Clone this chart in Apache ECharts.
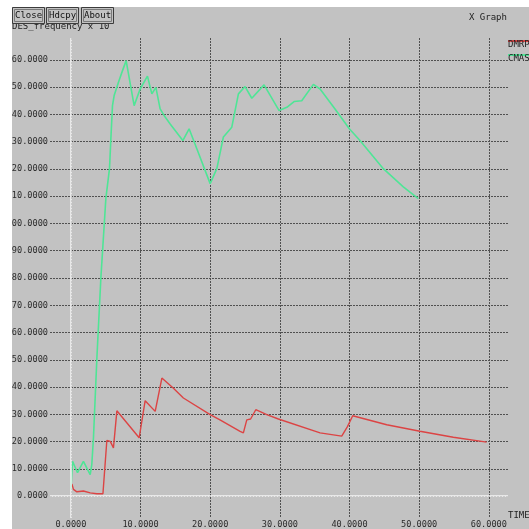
<!DOCTYPE html>
<html>
<head>
<meta charset="utf-8">
<script src="https://cdn.jsdelivr.net/npm/echarts@6/dist/echarts.min.js"></script>
<style>
  html, body { margin: 0; padding: 0; background: #ffffff; }
  #wrap { position: relative; width: 529px; height: 529px; overflow: hidden; }
  #panel { position: absolute; left: 12px; top: 7px; right: 0; bottom: 0; background: #c2c2c2; }
  #chart { position: absolute; left: 0; top: 0; width: 529px; height: 529px; }
</style>
</head>
<body>
<div id="wrap">
  <div id="panel"></div>
  <div id="chart"></div>
</div>
<script>
// Axis ticks
const timeTicks = [0, 10, 20, 30, 40, 50, 60];
const freqTicks = [0, 10, 20, 30, 40, 50, 60, 70, 80, 90, 100, 110, 120, 130, 140, 150, 160];

// DMRP series
const dmrpTime = [0.14, 0.37, 0.86, 1.8, 2.77, 3.73, 4.6, 5.16, 5.65, 6.11, 6.6, 9.8, 10.66, 12.1, 13.06,
  14.72, 16.15, 19.99, 21.4, 24.29, 24.76, 25.25, 25.8, 26.54, 28.12, 29.79, 35.77, 38.88, 39.7, 40.46,
  45.34, 50.11, 54.9, 59.68];
const dmrpFreq = [4.5, 2.5, 1.6, 1.9, 1.2, 0.9, 0.9, 20.4, 20.1, 17.7, 31.3, 21.4, 35.0, 31.1, 43.3,
  39.6, 36.0, 29.9, 28.0, 23.8, 23.2, 28.0, 28.3, 31.7, 29.9, 28.3, 23.2, 22.0, 25.5, 29.5,
  26.2, 23.8, 21.6, 19.8];

// CMAS series
const cmasTime = [0.0, 0.23, 0.95, 1.8, 2.77, 3.0, 3.24, 3.73, 4.3, 5.02, 5.54, 5.74, 5.97, 6.21, 6.83,
  7.32, 7.93, 9.08, 9.94, 10.99, 11.62, 12.2, 12.81, 13.53, 14.25, 16.07, 16.97, 18.08, 19.99, 20.95,
  21.89, 23.1, 24.05, 25.0, 25.97, 27.73, 29.89, 31.0, 32.04, 33.14, 34.81, 35.77, 37.92, 39.97, 41.5,
  44.85, 47.72, 49.87];
const cmasFreq = [2.5, 12.8, 8.6, 12.8, 7.9, 11.6, 21.4, 50.6, 79.9, 109.2, 120.1, 131.1, 143.2, 146.9, 151.8,
  155.4, 159.7, 143.2, 149.3, 154.0, 147.5, 149.9, 142.0, 139.0, 136.5, 130.4, 134.7, 127.4, 114.6, 120.1,
  131.7, 135.3, 147.5, 150.2, 145.9, 150.8, 141.4, 142.6, 144.7, 145.0, 151.0, 149.3, 142.0, 134.7, 130.4,
  120.1, 113.4, 109.1];

const seriesNames = ['DMRP', 'CMAS'];
const seriesColors = ['#dc4444', '#4fe596'];
const buttonLabels = ['Close', 'Hdcpy', 'About'];

const zip = (xs, ys) => xs.map((x, i) => [x, ys[i]]);
const mono = '"DejaVu Sans Mono", "Liberation Mono", monospace';
const fmt = v => Number(v).toFixed(4);

const chart = echarts.init(document.getElementById('chart'), null, { renderer: 'canvas' });

const gridLine = { show: true, lineStyle: { color: '#505050', width: 1, type: [2, 1] } };

// window chrome: buttons, title, legend, axis name
const graphics = [];
const btnX = [12, 46, 81];
const btnW = [32, 32, 32];
buttonLabels.forEach((t, i) => {
  graphics.push({ type: 'rect', z: 120, shape: { x: btnX[i] + 0.5, y: 7.5, width: btnW[i], height: 16 },
    style: { fill: '#c2c2c2', stroke: '#3c3c3c', lineWidth: 1 } });
  graphics.push({ type: 'rect', z: 121, shape: { x: btnX[i] + 2.5, y: 9.5, width: btnW[i] - 4, height: 12 },
    style: { fill: 'none', stroke: '#7a7a7a', lineWidth: 1 } });
  graphics.push({ type: 'text', z: 122, x: btnX[i] + 3, y: 15.5,
    style: { text: t, font: '9px ' + mono, fill: '#111', textVerticalAlign: 'middle' } });
});
graphics.push({ type: 'text', z: 110, x: 12, y: 26.5,
  style: { text: 'DES_frequency x 10', font: '9px ' + mono, fill: '#222', textVerticalAlign: 'middle' } });
graphics.push({ type: 'text', z: 110, x: 469, y: 18,
  style: { text: 'X Graph', font: '9px ' + mono, fill: '#222', textVerticalAlign: 'middle' } });
seriesNames.forEach((n, i) => {
  const y = 45 + i * 14;
  graphics.push({ type: 'rect', z: 110, shape: { x: 508, y: y - 5, width: 22, height: 2 },
    style: { fill: seriesColors[i] } });
  graphics.push({ type: 'text', z: 111, x: 508, y: y,
    style: { text: n, font: '9px ' + mono, fill: '#222', textVerticalAlign: 'middle' } });
});
graphics.push({ type: 'text', z: 110, x: 508, y: 516,
  style: { text: 'TIME', font: '9px ' + mono, fill: '#222', textVerticalAlign: 'middle' } });
// window margins (white border of the frame)
graphics.push({ type: 'rect', z: 200, shape: { x: 0, y: 0, width: 12, height: 529 }, style: { fill: '#ffffff' } });
graphics.push({ type: 'rect', z: 200, shape: { x: 0, y: 0, width: 529, height: 7 }, style: { fill: '#ffffff' } });

chart.setOption({
  backgroundColor: 'transparent',
  animation: false,
  grid: { left: 50, right: 21, top: 38, bottom: 9, containLabel: false },
  xAxis: {
    type: 'value', min: -3, max: 62.75,
    axisLine: { show: false },
    axisTick: { show: false, customValues: timeTicks },
    axisLabel: { customValues: timeTicks, formatter: fmt, margin: 2, verticalAlign: 'top',
      fontFamily: mono, fontSize: 8.6, color: '#2a2a2a' },
    splitLine: gridLine
  },
  yAxis: {
    type: 'value', min: -8, max: 168,
    axisLine: { show: false },
    axisTick: { show: false, customValues: freqTicks },
    axisLabel: { customValues: freqTicks, formatter: fmt, margin: 2, align: 'right',
      fontFamily: mono, fontSize: 8.6, color: '#2a2a2a' },
    splitLine: gridLine
  },
  series: [
    {
      type: 'line', data: [], z: 1, silent: true,
      markLine: { silent: true, symbol: 'none', animation: false, label: { show: false },
        lineStyle: { color: '#f4f4f4', width: 1.5, type: 'solid' },
        data: [{ xAxis: 0 }, { yAxis: 0 }] }
    },
    {
      name: seriesNames[0], type: 'line', data: zip(dmrpTime, dmrpFreq), showSymbol: false,
      z: 3, lineStyle: { color: seriesColors[0], width: 1.4 }, itemStyle: { color: seriesColors[0] }
    },
    {
      name: seriesNames[1], type: 'line', data: zip(cmasTime, cmasFreq), showSymbol: false,
      z: 3, lineStyle: { color: seriesColors[1], width: 1.6 }, itemStyle: { color: seriesColors[1] }
    }
  ],
  graphic: { elements: graphics }
});
</script>
</body>
</html>
